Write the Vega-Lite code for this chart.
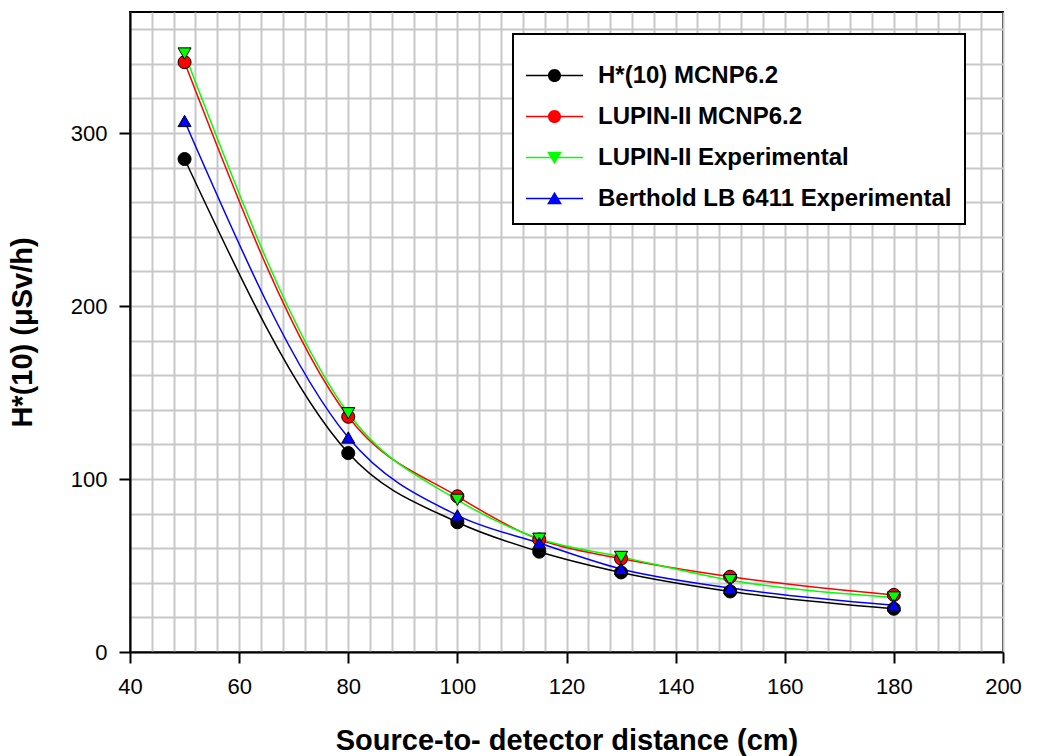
{
  "$schema": "https://vega.github.io/schema/vega-lite/v6.json",
  "autosize": {"type": "none"},
  "padding": {"left": 130, "top": 12, "right": 38, "bottom": 104},
  "width": 873,
  "height": 640,
  "background": "white",
  "config": {
    "view": {"stroke": "black", "strokeWidth": 2},
    "font": "Liberation Sans",
    "legend": {"strokeWidth": 2}
  },
  "data": {
    "values": [
      {"series": "H*(10) MCNP6.2", "x": 50, "y": 285},
      {"series": "H*(10) MCNP6.2", "x": 80, "y": 115},
      {"series": "H*(10) MCNP6.2", "x": 100, "y": 75},
      {"series": "H*(10) MCNP6.2", "x": 115, "y": 58},
      {"series": "H*(10) MCNP6.2", "x": 130, "y": 46},
      {"series": "H*(10) MCNP6.2", "x": 150, "y": 35},
      {"series": "H*(10) MCNP6.2", "x": 180, "y": 25},
      {"series": "LUPIN-II MCNP6.2", "x": 50, "y": 341},
      {"series": "LUPIN-II MCNP6.2", "x": 80, "y": 136},
      {"series": "LUPIN-II MCNP6.2", "x": 100, "y": 90},
      {"series": "LUPIN-II MCNP6.2", "x": 115, "y": 65},
      {"series": "LUPIN-II MCNP6.2", "x": 130, "y": 54},
      {"series": "LUPIN-II MCNP6.2", "x": 150, "y": 43.5},
      {"series": "LUPIN-II MCNP6.2", "x": 180, "y": 33},
      {"series": "LUPIN-II Experimental", "x": 50, "y": 346},
      {"series": "LUPIN-II Experimental", "x": 80, "y": 138},
      {"series": "LUPIN-II Experimental", "x": 100, "y": 88},
      {"series": "LUPIN-II Experimental", "x": 115, "y": 65.5},
      {"series": "LUPIN-II Experimental", "x": 130, "y": 55},
      {"series": "LUPIN-II Experimental", "x": 150, "y": 41.5},
      {"series": "LUPIN-II Experimental", "x": 180, "y": 31.5},
      {"series": "Berthold LB 6411 Experimental", "x": 50, "y": 307},
      {"series": "Berthold LB 6411 Experimental", "x": 80, "y": 124},
      {"series": "Berthold LB 6411 Experimental", "x": 100, "y": 79},
      {"series": "Berthold LB 6411 Experimental", "x": 115, "y": 63},
      {"series": "Berthold LB 6411 Experimental", "x": 130, "y": 48},
      {"series": "Berthold LB 6411 Experimental", "x": 150, "y": 37},
      {"series": "Berthold LB 6411 Experimental", "x": 180, "y": 27}
    ]
  },
  "encoding": {
    "x": {
      "field": "x",
      "type": "quantitative",
      "scale": {"domain": [40, 200], "nice": false, "zero": false},
      "axis": {
        "title": "Source-to- detector distance (cm)",
        "values": [40,44,48,52,56,60,64,68,72,76,80,84,88,92,96,100,104,108,112,116,120,124,128,132,136,140,144,148,152,156,160,164,168,172,176,180,184,188,192,196,200],
        "labelExpr": "datum.value % 20 === 0 ? datum.label : ''",
        "tickColor": {"condition": {"test": "datum.value % 20 === 0", "value": "black"}, "value": "transparent"},
        "tickSize": 11,
        "tickWidth": 2,
        "labelFontSize": 22,
        "labelColor": "black",
        "labelPadding": 13,
        "labelFlush": false,
        "labelOverlap": false,
        "domainColor": "black",
        "domainWidth": 2,
        "grid": true,
        "gridColor": "#c8c8c8",
        "gridWidth": 2,
        "titleFontSize": 29,
        "titleFontWeight": "bold",
        "titleColor": "black",
        "titlePadding": 29
      }
    },
    "y": {
      "field": "y",
      "type": "quantitative",
      "scale": {"domain": [0, 370], "nice": false},
      "axis": {
        "title": "H*(10) (μSv/h)",
        "values": [0,20,40,60,80,100,120,140,160,180,200,220,240,260,280,300,320,340,360],
        "labelExpr": "datum.value % 100 === 0 ? datum.label : ''",
        "tickColor": {"condition": {"test": "datum.value % 100 === 0", "value": "black"}, "value": "transparent"},
        "tickSize": 11,
        "tickWidth": 2,
        "labelFontSize": 22,
        "labelColor": "black",
        "labelPadding": 12,
        "labelFlush": false,
        "labelOverlap": false,
        "domainColor": "black",
        "domainWidth": 2,
        "grid": true,
        "gridColor": "#c8c8c8",
        "gridWidth": 2,
        "titleFontSize": 29,
        "titleFontWeight": "bold",
        "titleColor": "black",
        "titlePadding": 33
      }
    }
  },
  "layer": [
    {
      "mark": {"type": "line", "interpolate": "monotone", "strokeWidth": 1.5},
      "encoding": {
        "color": {
          "field": "series",
          "type": "nominal",
          "scale": {
            "domain": ["Berthold LB 6411 Experimental", "H*(10) MCNP6.2", "LUPIN-II MCNP6.2", "LUPIN-II Experimental"],
            "range": ["blue", "black", "red", "#00ff00"]
          },
          "legend": null
        }
      }
    },
    {
      "mark": {"type": "point", "filled": true, "size": 170, "stroke": "black", "strokeWidth": 1, "opacity": 1},
      "encoding": {
        "color": {
          "field": "series",
          "type": "nominal",
          "legend": null
        },
        "shape": {
          "condition": [
            {"test": "datum.series === 'LUPIN-II Experimental'", "value": "triangle-down"},
            {"test": "datum.series === 'Berthold LB 6411 Experimental'", "value": "triangle-up"}
          ],
          "value": "circle"
        }
      }
    },
    {
      "transform": [{"filter": "false"}],
      "mark": {"type": "point", "filled": true, "opacity": 1},
      "encoding": {
        "fill": {
          "field": "series",
          "type": "nominal",
          "scale": {
            "domain": ["H*(10) MCNP6.2", "LUPIN-II MCNP6.2", "LUPIN-II Experimental", "Berthold LB 6411 Experimental"],
            "range": ["black", "red", "#00ff00", "blue"]
          },
          "legend": {
            "title": null,
            "orient": "none",
            "legendX": 383,
            "legendY": 22,
            "padding": 13,
            "strokeColor": "black",
            "fillColor": "white",
            "labelFontSize": 24,
            "labelFontWeight": "bold",
            "labelFont": "Liberation Sans",
            "labelColor": "black",
            "labelOffset": 15,
            "labelLimit": 600,
            "rowPadding": -12,
            "symbolSize": 3249,
            "symbolStrokeWidth": 0,
            "symbolOpacity": 1
          }
        },
        "shape": {
          "field": "series",
          "type": "nominal",
          "scale": {
            "domain": ["H*(10) MCNP6.2", "LUPIN-II MCNP6.2", "LUPIN-II Experimental", "Berthold LB 6411 Experimental"],
            "range": [
              "M-1,-0.027H1V0.027H-1ZM0.23,0A0.23,0.23,0,1,1,-0.23,0A0.23,0.23,0,1,1,0.23,0Z",
              "M-1,-0.027H1V0.027H-1ZM0.23,0A0.23,0.23,0,1,1,-0.23,0A0.23,0.23,0,1,1,0.23,0Z",
              "M-1,-0.027H1V0.027H-1ZM-0.26,-0.2H0.26L0,0.24Z",
              "M-1,-0.027H1V0.027H-1ZM0.26,0.2H-0.26L0,-0.24Z"
            ]
          }
        }
      }
    }
  ]
}
